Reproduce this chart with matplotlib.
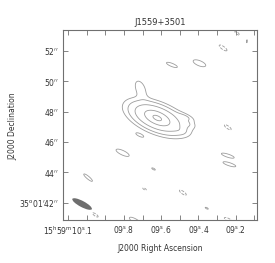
import numpy as np
import matplotlib
matplotlib.use('Agg')
import matplotlib.pyplot as plt
from matplotlib.patches import Ellipse

title = 'J1559+3501'
xlabel = 'J2000 Right Ascension'
ylabel = 'J2000 Declination'

# Source / noise components: RA seconds after 15h59m, Dec arcsec after 35d01m
comp_ra  = [9.6214, 9.6214, 9.7125, 9.4660, 9.4500, 9.5000,
            9.5427, 9.3948, 9.2679, 9.1929, 9.1409, 9.8073, 9.7160, 9.9927,
            9.6413, 9.6895, 9.4838, 9.3552, 9.2427, 9.2427, 9.2341, 9.9536,
            9.7393, 9.2395]
comp_dec = [47.58, 47.58, 49.56, 47.65, 47.20, 46.75,
            51.08, 51.19, 52.20, 53.18, 52.68, 45.29, 46.45, 43.65,
            44.22, 42.90, 42.66, 41.63, 46.97, 45.10, 44.53, 41.19,
            40.79, 40.86]
comp_amp = [10.2, 8.6, 1.7, 1.3, 0.8, 0.6,
            1.22, 1.3, -1.2, -1.1, 1.2, 1.35, 1.12, 1.2,
            1.05, -1.05, -1.15, 1.05, -1.15, 1.3, 1.3, -1.1,
            1.3, -1.2]
comp_maj = [2.67, 0.885, 1.09, 0.93, 0.8, 0.8,
            1.44, 1.44, 1.2, 1.0, 0.8, 1.44, 0.95, 1.44,
            1.0, 1.0, 1.2, 1.0, 1.2, 1.44, 1.44, 1.2,
            1.44, 1.2]
comp_min = [1.20, 0.411, 0.62, 0.31, 0.4, 0.4,
            0.39, 0.55, 0.39, 0.35, 0.3, 0.45, 0.3, 0.35,
            0.35, 0.35, 0.39, 0.35, 0.39, 0.33, 0.33, 0.39,
            0.45, 0.39]
comp_pa  = [68, 65, 25, 68, 70, 70,
            68, 68, 55, 50, 0, 65, 65, 50,
            62, 62, 55, 62, 55, 72, 72, 55,
            60, 62]

levels_pos = [1, 2, 4, 8, 16]
levels_neg = [-1]

beam_ra, beam_dec = 10.0248, 41.91
beam_maj, beam_min, beam_pa = 1.45, 0.40, 62

ra_ticks = [10.1, 10.0, 9.9, 9.8, 9.7, 9.6, 9.5, 9.4, 9.3, 9.2, 9.1]
ra_labels = [r'15$^{\rm h}$59$^{\rm m}$10$^{\rm s}$.1', '', '',
             r'09$^{\rm s}$.8', '', r'09$^{\rm s}$.6', '',
             r'09$^{\rm s}$.4', '', r'09$^{\rm s}$.2', '']
dec_ticks = [42, 44, 46, 48, 50, 52]
dec_labels = [r'35$^{\rm o}$01$^{\prime}$42$^{\prime\prime}$',
              r'44$^{\prime\prime}$', r'46$^{\prime\prime}$', r'48$^{\prime\prime}$',
              r'50$^{\prime\prime}$', r'52$^{\prime\prime}$']

ra_lim = (10.1289, 9.0842)
dec_lim = (40.857, 53.415)

ra0 = 9.6
dec_deg = 35 + 1/60 + 47.6/3600
k = 15 * np.cos(np.radians(dec_deg))

def rx(ra):
    return (np.asarray(ra) - ra0) * k

fig = plt.figure(figsize=(2.75, 2.63), dpi=100)
ax = fig.add_axes([0.228, 0.1635, 0.7077, 0.7243])

xg = np.linspace(-8, 8, 500)
yg = np.linspace(39.5, 55, 500)
X, Y = np.meshgrid(xg, yg)
F = np.zeros_like(X)
fw = 2 * np.sqrt(2 * np.log(2))
for ra, de, a, mj, mn, pa in zip(comp_ra, comp_dec, comp_amp, comp_maj, comp_min, comp_pa):
    dx = X - rx(ra)
    dy = Y - de
    t = np.radians(pa)
    u = dx * np.sin(t) + dy * np.cos(t)
    v = dx * np.cos(t) - dy * np.sin(t)
    sm, sn = mj / fw, mn / fw
    F += a * np.exp(-(u**2 / (2 * sm**2) + v**2 / (2 * sn**2)))

cc = '#9c9c9c'
ax.contour(X, Y, F, levels=levels_pos, colors=cc, linewidths=0.6, linestyles='solid')
ax.contour(X, Y, F, levels=levels_neg, colors=cc, linewidths=0.6, linestyles='dashed')

ax.add_patch(Ellipse((rx(beam_ra), beam_dec), width=beam_maj, height=beam_min,
                     angle=90 - beam_pa, facecolor='#6e6e6e', edgecolor='none'))

ax.set_xlim(rx(ra_lim[0]), rx(ra_lim[1]))
ax.set_ylim(*dec_lim)
ax.set_xticks(rx(ra_ticks))
ax.set_xticklabels(ra_labels)
ax.set_yticks(dec_ticks)
ax.set_yticklabels(dec_labels)

fs = 5.5
tc = '#333333'
ax.tick_params(direction='in', length=3.5, width=0.6, colors='#707070',
               labelcolor=tc, labelsize=fs, top=True, right=True, pad=3)
for s in ax.spines.values():
    s.set_color('#707070')
    s.set_linewidth(0.8)
ax.set_title(title, fontsize=6, color=tc, pad=3)
ax.set_xlabel(xlabel, fontsize=fs, color=tc, labelpad=5)
ax.set_ylabel(ylabel, fontsize=fs, color=tc)
ax.yaxis.set_label_coords(-0.235, 0.49)

fig.savefig('out.png', dpi=100)
